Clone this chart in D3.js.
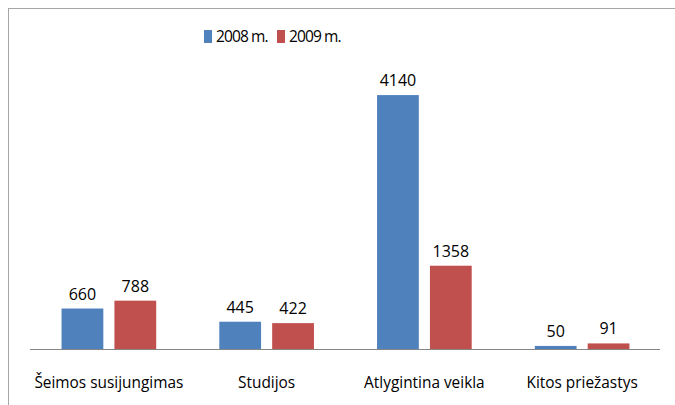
<!DOCTYPE html>
<html>
<head>
<meta charset="utf-8">
<script src="https://cdn.jsdelivr.net/npm/d3@7"></script>
<style>
  body { margin: 0; background: #fff; }
  svg text { font-family: "Open Sans", Lato, sans-serif; fill: #000; }
</style>
</head>
<body>
<div id="chart"></div>
<script>
// Reasons for migration, 2008 vs 2009
const categories = ["Šeimos susijungimas", "Studijos", "Atlygintina veikla", "Kitos priežastys"];
const seriesNames = ["2008 m.", "2009 m."];
const values2008 = [660, 445, 4140, 50];
const values2009 = [788, 422, 1358, 91];
const colors = ["#4f81bd", "#c0504d"];

const width = 675, height = 405;
const svg = d3.select("#chart").append("svg")
  .attr("width", width).attr("height", height);

// outer frame
svg.append("rect").attr("x", 8.5).attr("y", 8.5)
  .attr("width", 700).attr("height", 420)
  .attr("fill", "none").attr("stroke", "#a6a6a6");

const x0 = d3.scaleBand().domain(categories).range([30, 661]).paddingInner(0.4).paddingOuter(0.2);
const x1 = d3.scaleBand().domain(seriesNames).range([0, x0.bandwidth()]).paddingInner(0.21);
const y = d3.scaleLinear().domain([0, 4500]).range([349, 73]);

const data = categories.map((c, i) => ({
  cat: c,
  vals: [{ s: seriesNames[0], v: values2008[i] }, { s: seriesNames[1], v: values2009[i] }]
}));

const g = svg.selectAll("g.grp").data(data).join("g")
  .attr("class", "grp")
  .attr("transform", d => `translate(${x0(d.cat)},0)`);

g.selectAll("rect").data(d => d.vals).join("rect")
  .attr("x", d => x1(d.s)).attr("width", x1.bandwidth())
  .attr("y", d => y(d.v)).attr("height", d => y(0) - y(d.v))
  .attr("fill", (d, i) => colors[i]);

g.selectAll("text.val").data(d => d.vals).join("text")
  .attr("class", "val")
  .attr("x", d => x1(d.s) + x1.bandwidth() / 2)
  .attr("y", d => y(d.v) - 9)
  .attr("text-anchor", "middle")
  .style("font-size", "16px")
  .text(d => d.v);

// baseline axis
svg.append("line").attr("x1", 30).attr("x2", 660)
  .attr("y1", 349.5).attr("y2", 349.5).attr("stroke", "#868686");

svg.append("g").selectAll("text").data(categories).join("text")
  .attr("x", d => x0(d) + x0.bandwidth() / 2)
  .attr("y", 388)
  .attr("text-anchor", "middle")
  .style("font-size", "15.4px")
  .text(d => d);

// legend
const leg = svg.append("g").attr("transform", "translate(204,29)");
const legX = [0, 73];
seriesNames.forEach((s, i) => {
  leg.append("rect").attr("x", legX[i]).attr("y", 1).attr("width", 8).attr("height", 13).attr("fill", colors[i]);
  leg.append("text").attr("x", legX[i] + 12).attr("y", 13)
    .style("font-size", "15.5px").style("letter-spacing", "-0.9px").text(s);
});
</script>
</body>
</html>
